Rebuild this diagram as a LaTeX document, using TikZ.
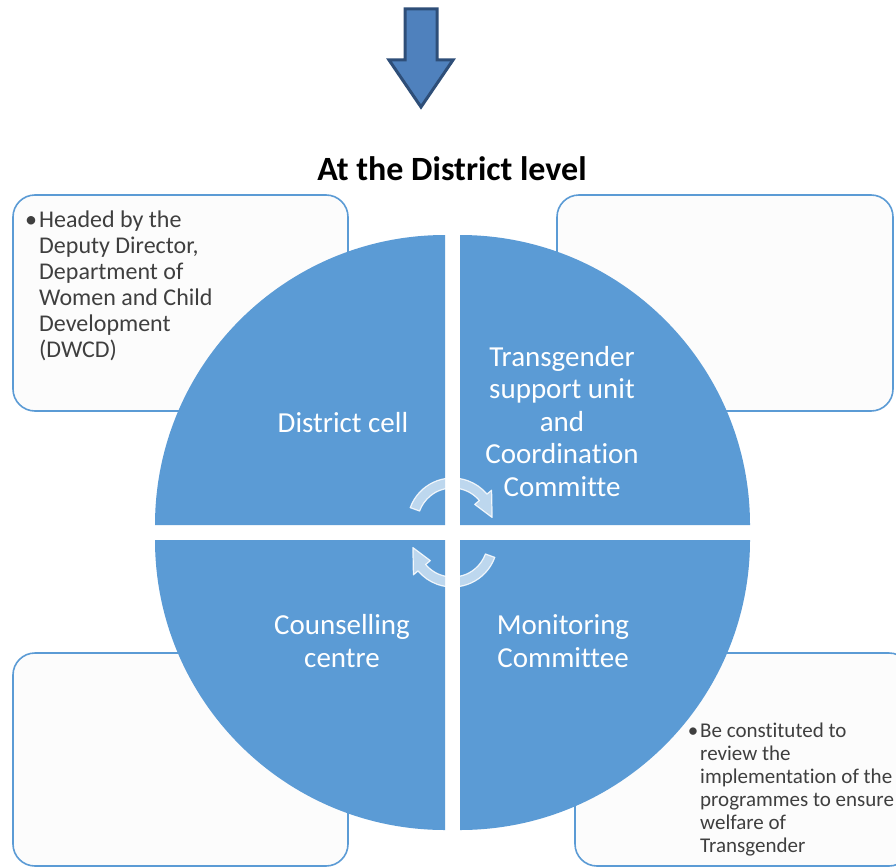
\documentclass[tikz,border=0pt]{standalone}
\usepackage{fontspec}
\setmainfont{Carlito}[Ligatures={NoCommon}]
\usetikzlibrary{calc}

\definecolor{quadblue}{HTML}{5B9BD5}
\definecolor{downfill}{HTML}{4F81BD}
\definecolor{downline}{HTML}{2E4E78}
\definecolor{boxline}{HTML}{5B9BD5}
\definecolor{boxfill}{HTML}{FCFCFC}
\definecolor{boxtext}{HTML}{3F3F3F}

\tikzset{
  notebox/.style={draw=boxline, fill=boxfill, line width=1.6pt, rounded corners=22pt},
  quadrant/.style={fill=quadblue},
  quadlabel/.style={text=white, align=center, inner sep=0pt,
    font=\fontsize{29}{32.5}\selectfont},
  notetext/.style={text=boxtext, align=left, inner sep=0pt},
  cycarrow/.style={fill=white, fill opacity=0.6, draw=white, draw opacity=0.85,
    line width=1.2pt, line join=round},
  downarrow/.style={fill=downfill, draw=downline, line width=3pt, line join=miter},
}

\begin{document}
\begin{tikzpicture}[x=1pt, y=1pt, yscale=-1]
  % page area
  \fill[white] (0,0) rectangle (896,867);
  \useasboundingbox (0,0) rectangle (896,867);

  % block arrow at the top
  \draw[downarrow] (405,9) -- (437,9) -- (437,60) -- (453,60) -- (421,107)
    -- (389,60) -- (405,60) -- cycle;

  % heading
  \node[anchor=base, inner sep=0pt, font=\bfseries\fontsize{34}{40}\selectfont]
    (title) at (452,180) {At the District level};

  % side note boxes (behind the circle)
  \draw[notebox] (13,195) rectangle (348,411);
  \draw[notebox] (557,195) rectangle (893,411);
  \draw[notebox] (13,653) rectangle (348,866);
  \draw[notebox] (575,653) rectangle (911,866);

  % four quadrants of the circle, separated by a gap
  \fill[quadrant] (445,525) -- ++(180:290) arc[start angle=180, end angle=270, radius=290] -- cycle;
  \fill[quadrant] (460,525) -- ++(270:290) arc[start angle=270, end angle=360, radius=290] -- cycle;
  \fill[quadrant] (445,540) -- ++(90:290) arc[start angle=90, end angle=180, radius=290] -- cycle;
  \fill[quadrant] (460,540) -- ++(0:290) arc[start angle=0, end angle=90, radius=290] -- cycle;

  % cycle arrows in the middle
  \coordinate (c1) at (452.5,523);
  \coordinate (c2) at (452.5,542);
  \filldraw[cycarrow] ($(c1)+(200:45)$) arc[start angle=200, end angle=320, radius=45]
    -- ($(c1)+(320:51)$) -- ($(c1)+(352:40)$) -- ($(c1)+(320:29)$)
    -- ($(c1)+(320:35)$) arc[start angle=320, end angle=200, radius=35] -- cycle;
  \filldraw[cycarrow] ($(c2)+(20:45)$) arc[start angle=20, end angle=140, radius=45]
    -- ($(c2)+(140:51)$) -- ($(c2)+(172:40)$) -- ($(c2)+(140:29)$)
    -- ($(c2)+(140:35)$) arc[start angle=140, end angle=20, radius=35] -- cycle;

  % quadrant labels (base anchor = baseline of the last line)
  \node[quadlabel, anchor=base] (cell) at (343,432) {District cell};
  \node[quadlabel, anchor=base] (unit) at (562,496)
    {Transgender\\support unit\\and\\Coordination\\Committe};
  \node[quadlabel, anchor=base] (counsel) at (342,667) {Counselling\\centre};
  \node[quadlabel, anchor=base] (monitor) at (563,667) {Monitoring\\Committee};

  % notes
  \node[notetext, anchor=base west, font=\fontsize{24}{26}\selectfont] (headnote) at (39,357)
    {\llap{•\hspace{2pt}}Headed by the\\Deputy Director,\\Department of\\Women and Child\\Development\\(DWCD)};
  \node[notetext, anchor=base west, font=\fontsize{21}{23}\selectfont] (reviewnote) at (700,852)
    {\llap{•\hspace{2pt}}Be constituted to\\review the\\implementation of the\\programmes to ensure\\welfare of\\Transgender};
\end{tikzpicture}
\end{document}
